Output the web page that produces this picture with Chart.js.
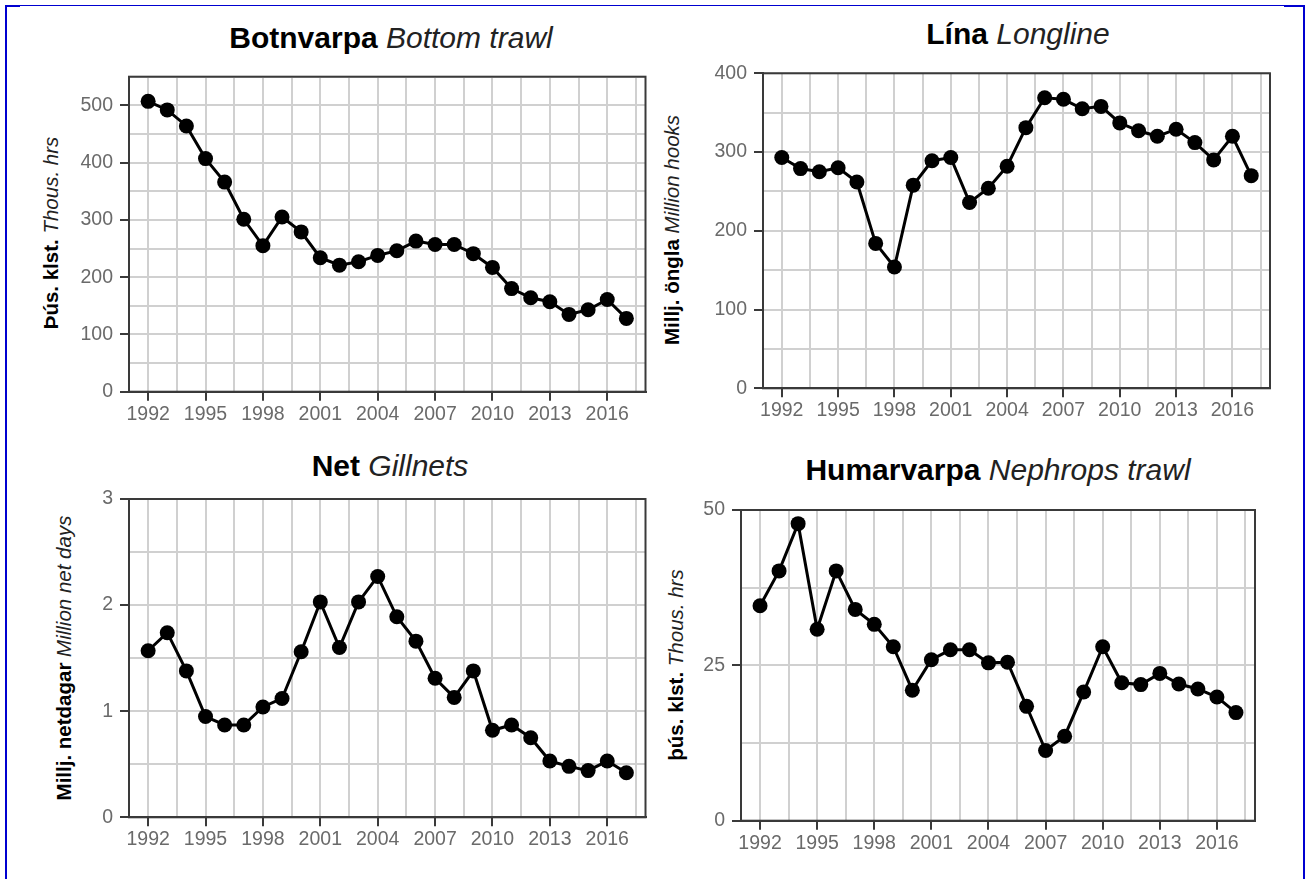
<!DOCTYPE html>
<html><head><meta charset="utf-8">
<script src="https://cdn.jsdelivr.net/npm/chart.js@4.4.0/dist/chart.umd.min.js"></script>
<style>
html,body{margin:0;padding:0;background:#fff;}
body{width:1306px;height:879px;position:relative;overflow:hidden;font-family:"Liberation Sans",Arial,sans-serif;}
.frame{position:absolute;left:5px;top:5px;width:1296px;height:900px;border-left:2px solid #0000d0;border-top:1px solid #0000d0;border-right:2px solid #0000d0;}
.thick{position:absolute;height:2px;background:#0000d0;top:5px;}
canvas.pc{position:absolute;}
.ttl{position:absolute;font-size:30px;white-space:nowrap;transform:translate(-50%,-50%);color:#000;}
.ttl i{color:#222;}
.yt{position:absolute;font-size:20.5px;white-space:nowrap;transform:translate(-50%,-50%) rotate(-90deg);color:#000;}
.yt i{color:#222;}
</style></head>
<body>
<div class="frame"></div>
<div class="thick" style="left:5px;width:15px"></div>
<div class="thick" style="left:1284px;width:20px"></div>

<div class="ttl" style="left:391px;top:38px"><b>Botnvarpa</b> <i>Bottom trawl</i></div>
<div class="ttl" style="left:1018px;top:34px"><b>Lína</b> <i>Longline</i></div>
<div class="ttl" style="left:390px;top:466px"><b>Net</b> <i>Gillnets</i></div>
<div class="ttl" style="left:998px;top:470px"><b>Humarvarpa</b> <i>Nephrops trawl</i></div>

<div class="yt" style="left:51px;top:233px"><b>Þús. klst.</b> <i>Thous. hrs</i></div>
<div class="yt" style="left:672px;top:230px"><b>Millj. öngla</b> <i>Million hooks</i></div>
<div class="yt" style="left:64px;top:658px"><b>Millj. netdagar</b> <i>Million net days</i></div>
<div class="yt" style="left:676px;top:665px"><b>þús. klst.</b> <i>Thous. hrs</i></div>

<script>
const years = [1992,1993,1994,1995,1996,1997,1998,1999,2000,2001,2002,2003,2004,2005,2006,2007,2008,2009,2010,2011,2012,2013,2014,2015,2016,2017];
const bottomTrawl = [507,492,464,407,366,301,255,305,279,234,221,227,238,246,263,257,257,241,217,180,164,157,135,143,161,128];
const longline = [293,279,275,280,262,184,154,258,289,293,236,254,282,331,369,367,355,358,337,327,320,329,312,290,320,270];
const gillnets = [1.57,1.74,1.38,0.95,0.87,0.87,1.04,1.12,1.56,2.03,1.60,2.03,2.27,1.89,1.66,1.31,1.13,1.38,0.82,0.87,0.75,0.53,0.48,0.44,0.53,0.42];
const nephrops = [34.6,40.2,47.8,30.8,40.2,34.0,31.6,28.0,21.0,25.9,27.5,27.5,25.4,25.5,18.4,11.3,13.6,20.7,28.0,22.2,21.9,23.7,22.0,21.2,19.9,17.4];

const xTickLabels = [1992,1995,1998,2001,2004,2007,2010,2013,2016];
const xGridStep = 1.5;
const yLabels1 = [0,100,200,300,400,500];
const yLabels2 = [0,100,200,300,400];
const yLabels3 = [0,1,2,3];
const yLabels4 = [0,25,50];

Chart.defaults.font.family = "'Liberation Sans', Arial, sans-serif";

const boxPlugin = {
  id:'box',
  beforeDatasetsDraw(ch){
    const {ctx, chartArea:a} = ch;
    ctx.save();
    ctx.strokeStyle = '#3a3a3a';
    ctx.lineWidth = 2;
    ctx.strokeRect(a.left, a.top, a.right-a.left, a.bottom-a.top);
    ctx.restore();
  }
};

function isIn(list, v){ return list.some(t => Math.abs(t - v) < 1e-6); }

function makeChart(p){
  const cv = document.createElement('canvas');
  cv.className = 'pc';
  cv.width = p.q[2]; cv.height = p.q[3];
  cv.style.left = p.q[0]+'px'; cv.style.top = p.q[1]+'px';
  cv.style.width = p.q[2]+'px'; cv.style.height = p.q[3]+'px';
  document.body.appendChild(cv);
  const yW = 70, xH = 40;
  const a = p.area;
  const pad = {
    left: a.left - p.q[0] - yW,
    top: a.top - p.q[1],
    right: p.q[0] + p.q[2] - a.right,
    bottom: p.q[1] + p.q[3] - a.bottom - xH
  };
  const gridX = [];
  for (let v = years[0]; v < years[years.length-1] + 1; v += xGridStep) gridX.push(v);
  new Chart(cv, {
    type:'line',
    data:{datasets:[{
      data: years.map((y,i)=>({x:y, y:p.values[i]})),
      borderColor:'#000', borderWidth:3,
      pointRadius:7.5, pointBackgroundColor:'#000', pointBorderColor:'#000', pointBorderWidth:0,
      tension:0, clip:false
    }]},
    options:{
      responsive:false, animation:false, devicePixelRatio:1,
      layout:{padding:pad},
      plugins:{legend:{display:false}, tooltip:{enabled:false}, title:{display:false}},
      scales:{
        x:{
          type:'linear', min:1991, max:2018,
          afterFit: s => { s.height = xH; },
          afterBuildTicks: s => { s.ticks = gridX.map(v => ({value:v})); },
          ticks:{autoSkip:false, maxRotation:0, color:'#6a6a6a', font:{size:19.5}, padding:2,
            callback: v => isIn(xTickLabels, v) ? String(v) : ''},
          grid:{color:'#d0d0d0', lineWidth:2, tickLength:9, tickWidth:2,
            tickColor: c => (c.tick && isIn(xTickLabels, c.tick.value)) ? '#3a3a3a' : 'rgba(0,0,0,0)'},
          border:{display:true, color:'#3a3a3a', width:2}
        },
        y:{
          type:'linear', min:0, max:p.yMax,
          afterFit: s => { s.width = yW; },
          ticks:{stepSize:p.yStep, autoSkip:false, color:'#6a6a6a', font:{size:19.5}, padding:7,
            callback: v => isIn(p.yLabels, v) ? String(v) : ''},
          grid:{color:'#d0d0d0', lineWidth:2, tickLength:9, tickWidth:2,
            tickColor: c => (c.tick && isIn(p.yLabels, c.tick.value)) ? '#3a3a3a' : 'rgba(0,0,0,0)'},
          border:{display:true, color:'#3a3a3a', width:2}
        }
      }
    },
    plugins:[boxPlugin]
  });
}

makeChart({q:[0,0,653,440], area:{left:129,top:76.7,right:648,bottom:391.7}, values:bottomTrawl, yMax:550, yStep:50, yLabels:yLabels1});
makeChart({q:[653,0,653,440], area:{left:763,top:73.3,right:1270,bottom:388.3}, values:longline, yMax:400, yStep:50, yLabels:yLabels2});
makeChart({q:[0,440,653,439], area:{left:129,top:499,right:648,bottom:817.3}, values:gillnets, yMax:3, yStep:0.5, yLabels:yLabels3});
makeChart({q:[653,440,653,439], area:{left:741,top:510,right:1255,bottom:820.7}, values:nephrops, yMax:50, yStep:12.5, yLabels:yLabels4});
</script>
</body></html>
